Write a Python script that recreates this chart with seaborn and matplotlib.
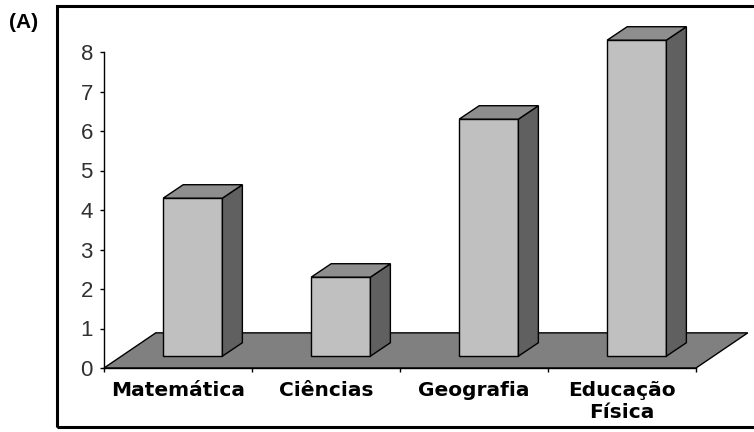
import matplotlib
matplotlib.use("Agg")
import matplotlib.pyplot as plt
import matplotlib.patches as mpatches
import seaborn as sns

categories = ["Matemática", "Ciências", "Geografia", "Educação\nFísica"]
values = [4, 2, 6, 8]
y_ticks = [0, 1, 2, 3, 4, 5, 6, 7, 8]

sns.set_style("white")

fig = plt.figure(figsize=(7.54, 4.32), dpi=100)
ax = fig.add_axes([104 / 754, 64 / 432, 592 / 754, 316 / 432])

# front faces of the bars
sns.barplot(x=categories, y=values, width=0.4, color="#c0c0c0",
            edgecolor="black", linewidth=1, saturation=1, ax=ax)

# 3d offsets in data units
front_dx, front_dy = 0.10, 0.30
depth_dx, depth_dy = 0.135, 0.34
floor_dx, floor_dy = 0.35, 0.89

ax.set_xlim(-0.5, 3.5)
ax.set_ylim(0, 8)

# floor
floor = mpatches.Polygon([(-0.5, 0), (3.5, 0), (3.5 + floor_dx, floor_dy),
                          (-0.5 + floor_dx, floor_dy)],
                         closed=True, facecolor="#808080", edgecolor="black",
                         linewidth=1, zorder=0.5, clip_on=False)
ax.add_patch(floor)

for bar in ax.patches[:len(values)]:
    bar.set_x(bar.get_x() + front_dx)
    bar.set_y(front_dy)
    bar.set_clip_on(False)
    bar.set_zorder(2)
    x0 = bar.get_x()
    x1 = x0 + bar.get_width()
    y0 = bar.get_y()
    y1 = y0 + bar.get_height()
    side = mpatches.Polygon([(x1, y0), (x1 + depth_dx, y0 + depth_dy),
                             (x1 + depth_dx, y1 + depth_dy), (x1, y1)],
                            closed=True, facecolor="#606060", edgecolor="black",
                            linewidth=1, zorder=2, clip_on=False)
    top = mpatches.Polygon([(x0, y1), (x0 + depth_dx, y1 + depth_dy),
                            (x1 + depth_dx, y1 + depth_dy), (x1, y1)],
                           closed=True, facecolor="#8e8e8e", edgecolor="black",
                           linewidth=1, zorder=2, clip_on=False)
    ax.add_patch(side)
    ax.add_patch(top)

# axes styling
for s in ["top", "right"]:
    ax.spines[s].set_visible(False)
for s in ["left", "bottom"]:
    ax.spines[s].set_color("black")
    ax.spines[s].set_linewidth(1)
    ax.spines[s].set_zorder(3)

ax.set_yticks(y_ticks)
ax.set_yticklabels([str(t) for t in y_ticks], family="Liberation Sans",
                   fontsize=16, color="#303030")
ax.tick_params(axis="y", direction="out", length=3, width=1, pad=5, left=True,
               color="black")

ax.set_xticks([-0.5, 0.5, 1.5, 2.5, 3.5])
ax.set_xticklabels([])
ax.set_xticks([0, 1, 2, 3], minor=True)
ax.set_xticklabels(categories, minor=True, family="DejaVu Sans",
                   fontweight="bold", fontsize=14.5, linespacing=1.25,
                   color="black")
ax.tick_params(axis="x", which="major", direction="out", length=3, width=1,
               bottom=True, color="black")
ax.tick_params(axis="x", which="minor", length=0, pad=9)
ax.set_xlabel("")
ax.set_ylabel("")

# outer frame
frame = mpatches.Rectangle((57 / 754, 5 / 432), 0.95, 421 / 432,
                           transform=fig.transFigure, fill=False,
                           edgecolor="black", linewidth=2.2)
fig.add_artist(frame)

fig.text(9 / 754, 1 - 23 / 432, "(A)", family="Liberation Sans",
         fontweight="bold", fontsize=15, va="center", ha="left", color="black")

plt.savefig("out.png", dpi=100)
